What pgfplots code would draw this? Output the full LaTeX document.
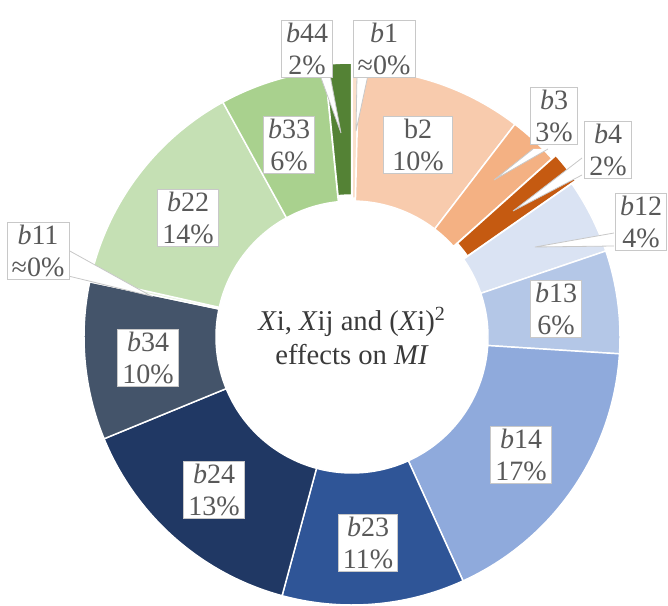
\documentclass[border=0pt]{standalone}
\usepackage{pgfplots}
\usepackage{pgfplotstable}
\pgfplotsset{compat=1.18}
\usepackage{fontspec}
\setmainfont{Liberation Serif}

% slice colours, in table order
\definecolor{c0}{HTML}{FBE0CC}  % b1
\definecolor{c1}{HTML}{F8CBAD}  % b2
\definecolor{c2}{HTML}{F4B183}  % b3
\definecolor{c3}{HTML}{C55A11}  % b4
\definecolor{c4}{HTML}{DAE3F3}  % b12
\definecolor{c5}{HTML}{B4C7E7}  % b13
\definecolor{c6}{HTML}{8FAADC}  % b14
\definecolor{c7}{HTML}{2F5597}  % b23
\definecolor{c8}{HTML}{203864}  % b24
\definecolor{c9}{HTML}{44546A}  % b34
\definecolor{c10}{HTML}{E2F0D9} % b11
\definecolor{c11}{HTML}{C5E0B4} % b22
\definecolor{c12}{HTML}{A9D18E} % b33
\definecolor{c13}{HTML}{548235} % b44
\definecolor{labtext}{HTML}{595959}
\definecolor{labframe}{HTML}{C8C8C8}
\definecolor{centertext}{HTML}{3A3A3A}

% share of each effect (percent, clockwise from 12 o'clock), explode in px
\pgfplotstableread{
name value explode
b1   0.4  3
b2  10.0  0
b3   3.0  0
b4   1.9  5
b12  4.5  0
b13  6.2  0
b14 17.2  0
b23 11.0  0
b24 14.6  0
b34  9.5  0
b11  0.2  0
b22 13.5  0
b33  6.4  0
b44  1.6  6
}\donut

\def\Ro{201pt}   % outer radius (268 px)
\def\Ri{102pt}   % inner radius (136 px)

% cumulative angles
\def\cum{0}
\pgfplotsforeachungrouped \i in {0,...,13}{%
  \pgfplotstablegetelem{\i}{value}\of\donut
  \let\sliceval\pgfplotsretval
  \pgfplotstablegetelem{\i}{explode}\of\donut
  \let\sliceexp\pgfplotsretval
  \pgfmathsetmacro\aS{90-3.6*\cum}
  \pgfmathsetmacro\cumN{\cum+\sliceval}
  \pgfmathsetmacro\aE{90-3.6*\cumN}
  \pgfmathsetmacro\aM{(\aS+\aE)/2}
  \pgfmathsetmacro\eX{0.75*\sliceexp}
  \expandafter\xdef\csname aS\i\endcsname{\aS}
  \expandafter\xdef\csname aE\i\endcsname{\aE}
  \expandafter\xdef\csname aM\i\endcsname{\aM}
  \expandafter\xdef\csname ex\i\endcsname{\eX}
  \global\let\cum\cumN
}

\begin{document}
\begin{tikzpicture}[
    lab/.style={draw=labframe, fill=white, line width=0.6pt, text=labtext,
      align=center, inner xsep=3.5pt, inner ysep=2pt,
      font=\fontsize{21}{24}\selectfont},
    wedge/.style={fill=white, draw=labframe, line width=0.6pt},
  ]
  \begin{axis}[
    hide axis,
    x=0.75pt, y=0.75pt,
    xmin=0, xmax=668, ymin=0, ymax=606,
    y dir=reverse,
    clip=false,
  ]
  \coordinate (bl) at (rel axis cs:0,0);
  \coordinate (tr) at (rel axis cs:1,1);

  % ring
  \pgfplotsinvokeforeach{0,...,13}{
    \filldraw[fill=c#1, draw=white, line width=1.1pt,
      shift={(axis cs:352,337)},
      shift={(canvas polar cs:angle=\csname aM#1\endcsname,radius=\csname ex#1\endcsname pt)}]
      (canvas polar cs:angle=\csname aS#1\endcsname,radius=\Ro)
      arc[start angle=\csname aS#1\endcsname, end angle=\csname aE#1\endcsname, radius=\Ro]
      -- (canvas polar cs:angle=\csname aE#1\endcsname,radius=\Ri)
      arc[start angle=\csname aE#1\endcsname, end angle=\csname aS#1\endcsname, radius=\Ri]
      -- cycle;
  }

  % callout pointers
  \filldraw[wedge] (axis cs:320,75) -- (axis cs:341,133) -- (axis cs:330,75);
  \filldraw[wedge] (axis cs:357,75) -- (axis cs:356,131) -- (axis cs:368,75);
  \filldraw[wedge] (axis cs:533,149) -- (axis cs:494,180) -- (axis cs:548,149);
  \filldraw[wedge] (axis cs:582,158) -- (axis cs:513,211) -- (axis cs:582,175);
  \filldraw[wedge] (axis cs:614,233) -- (axis cs:535,247) -- (axis cs:614,246);
  \filldraw[wedge] (axis cs:68,250) -- (axis cs:151,296) -- (axis cs:60,274);

  % data labels
  \node[lab] at (axis cs:307,49)  {\textit{b}44\\2\%};
  \node[lab] at (axis cs:384,49)  {\textit{b}1\\≈0\%};
  \node[lab, minimum width=52pt] at (axis cs:418,145) {b2\\10\%};
  \node[lab] at (axis cs:554,116) {\textit{b}3\\3\%};
  \node[lab] at (axis cs:608,150) {\textit{b}4\\2\%};
  \node[lab] at (axis cs:641,222) {\textit{b}12\\4\%};
  \node[lab] at (axis cs:556,309) {\textit{b}13\\6\%};
  \node[lab] at (axis cs:521,455) {\textit{b}14\\17\%};
  \node[lab] at (axis cs:368,543) {\textit{b}23\\11\%};
  \node[lab] at (axis cs:214,490) {\textit{b}24\\13\%};
  \node[lab] at (axis cs:148,358) {\textit{b}34\\10\%};
  \node[lab] at (axis cs:38,251)  {\textit{b}11\\≈0\%};
  \node[lab] at (axis cs:188,218) {\textit{b}22\\14\%};
  \node[lab] at (axis cs:289,145) {\textit{b}33\\6\%};

  % centre title
  \node[align=center, text=centertext, font=\fontsize{21.5}{25}\selectfont]
    at (axis cs:352,336)
    {\textit{X}i, \textit{X}ij and (\textit{X}i)\textsuperscript{2}\\effects on \textit{MI}};
  \end{axis}
  \pgfresetboundingbox
  \path[use as bounding box] (bl) rectangle (tr);
\end{tikzpicture}
\end{document}
